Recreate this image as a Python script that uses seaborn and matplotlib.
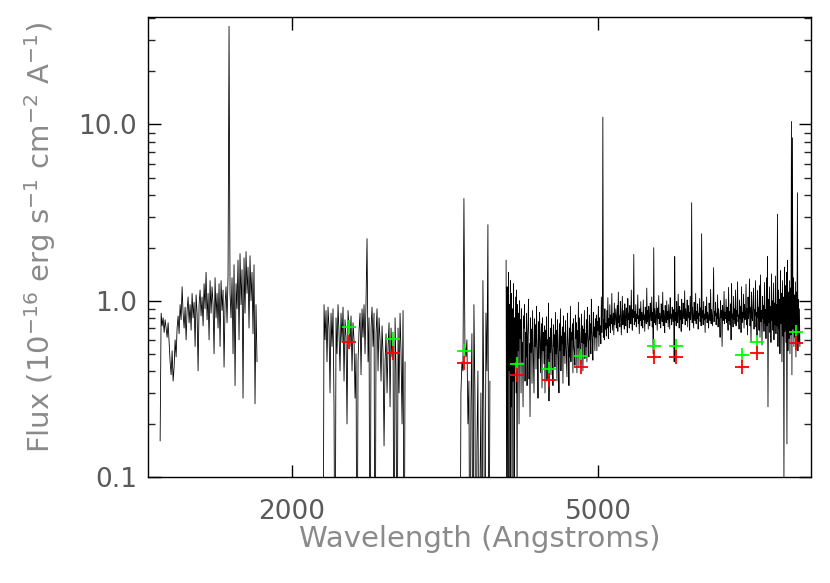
import numpy as np
import pandas as pd
import seaborn as sns
import matplotlib
matplotlib.use("Agg")
import matplotlib.pyplot as plt
from matplotlib.ticker import FixedLocator, NullLocator, FixedFormatter, LogLocator, NullFormatter

# ---------------- data ----------------
# wavelength ranges (Angstrom) of the spectral segments
seg_ranges = [(1348, 1801), (2194, 2804), (3304, 3614), (3793, 9132)]

flux_uv1 = [
    0.16, 0.85, 0.72, 0.80, 0.66, 0.78, 0.70, 0.62, 0.75, 0.58,
    0.45, 0.38, 0.52, 0.35, 0.42, 0.60, 0.48, 0.70, 0.82, 0.65,
    0.95, 0.78, 1.20, 0.85, 0.70, 0.92, 0.60, 0.88, 1.05, 0.75,
    0.95, 0.68, 1.10, 0.80, 0.98, 0.55, 1.08, 0.85, 0.40, 0.95,
    1.15, 0.82, 1.05, 0.72, 1.25, 0.90, 1.45, 0.78, 1.10, 0.60,
    1.30, 0.85, 1.20, 0.95, 0.50, 1.35, 0.80, 1.10, 0.70, 1.25,
    0.55, 1.30, 0.88, 1.15, 0.42, 0.95, 1.20, 0.75, 1.40, 36.0,
    1.10, 0.80, 1.35, 0.50, 1.60, 0.33, 1.25, 0.90, 1.70, 0.60,
    1.85, 0.95, 1.50, 0.28, 1.75, 0.85, 1.90, 1.10, 1.55, 0.70,
    1.80, 1.00, 1.45, 0.65, 1.60, 0.26, 0.95, 0.45,
]

flux_uv2 = [
    0.01, 0.95, 0.60, 0.88, 0.45, 0.92, 0.70, 0.30, 0.85, 0.55,
    0.90, 0.25, 0.01, 0.80, 0.50, 0.95, 0.65, 0.40, 0.85, 0.58,
    0.92, 0.35, 0.78, 0.62, 0.20, 0.88, 0.70, 0.55, 0.82, 0.40,
    0.75, 0.60, 0.28, 0.50, 0.01, 0.45, 0.68, 0.85, 0.38, 0.90,
    0.62, 0.95, 0.50, 1.00, 2.25, 0.45, 0.80, 0.01, 0.70, 0.92,
    0.55, 0.85, 0.01, 0.65, 0.90, 0.40, 0.80, 0.60, 0.35, 0.72,
    0.50, 0.15, 0.45, 0.65, 0.30, 0.55, 0.75, 0.25, 0.70, 0.48,
    0.62, 0.01, 0.80, 0.40, 0.01, 0.70, 0.30, 0.85, 0.50, 0.20,
    0.88, 0.01, 0.45,
]

flux_opt1 = [
    0.01, 0.30, 0.45, 0.40, 3.80, 0.55, 0.48, 0.60, 0.20, 0.35,
    0.01, 0.25, 0.65, 0.01, 0.95, 0.30, 0.01, 0.15, 0.40, 0.01,
    0.08, 0.30, 0.01, 1.30, 0.20, 0.01, 0.85, 0.40, 2.70, 0.01,
    0.35,
]

flux_opt2 = [
    1.70, 0.08, 1.20, 0.30, 0.02, 1.45, 0.40, 0.95, 0.02, 1.30, 0.25, 1.10, 0.05, 0.90, 0.35, 1.25, 0.02, 0.80, 0.45, 1.05,
    0.30, 1.15, 0.06, 0.95, 0.52, 0.85, 0.20, 1.00, 0.61, 0.78, 0.30, 0.90, 0.45, 0.58, 0.25, 0.82, 0.70, 0.95, 0.35, 0.66,
    0.48, 0.85, 0.33, 0.62, 0.74, 1.02, 0.36, 0.57, 0.22, 0.80, 0.51, 0.69, 0.34, 0.88, 0.62, 0.45, 0.30, 0.79, 0.55, 0.73,
    0.41, 0.93, 0.60, 0.50, 0.28, 0.76, 0.47, 0.86, 0.64, 0.39, 0.58, 0.74, 0.32, 0.80, 0.52, 0.66, 0.44, 0.72, 0.30, 0.68,
    0.56, 0.81, 0.35, 0.60, 0.47, 0.97, 0.27, 0.62, 0.51, 0.70, 0.38, 0.79, 0.59, 0.48, 0.33, 0.73, 0.55, 0.64, 0.42, 0.86,
    0.50, 0.68, 0.35, 0.78, 0.61, 0.45, 0.30, 0.74, 0.52, 0.90, 0.40, 0.63, 0.57, 0.71, 0.34, 0.82, 0.49, 0.66, 0.44, 0.77,
    0.58, 0.47, 0.37, 0.85, 0.62, 0.53, 0.33, 0.70, 0.48, 0.93, 0.45, 0.66, 0.60, 0.74, 0.39, 0.79, 0.56, 0.51, 0.43, 0.83,
    0.61, 0.75, 0.39, 0.68, 0.54, 0.98, 0.42, 0.80, 0.63, 0.50, 0.44, 0.84, 0.58, 0.72, 0.40, 0.69, 0.57, 0.88, 0.47, 0.65,
    0.55, 0.78, 0.45, 0.92, 0.64, 0.57, 0.48, 0.83, 0.60, 0.74, 0.50, 1.02, 0.67, 0.58, 0.46, 0.86, 0.63, 0.71, 0.52, 0.79,
    0.62, 0.83, 0.52, 0.76, 0.68, 0.93, 0.55, 0.80, 0.64, 0.72, 0.57, 1.05, 0.66, 0.84, 11.0, 0.62, 0.78, 0.60, 0.90, 0.69,
    0.74, 0.63, 0.88, 0.70, 1.04, 0.61, 0.79, 0.72, 0.95, 0.66, 0.83, 0.74, 1.10, 0.68, 0.77, 0.85, 0.64, 0.97, 0.73, 0.81,
    0.90, 0.70, 0.78, 0.94, 0.67, 1.12, 0.75, 0.82, 0.71, 0.99, 0.86, 0.64, 0.79, 1.06, 0.73, 0.88, 0.76, 0.69, 0.96, 0.80,
    0.72, 0.91, 0.83, 0.66, 1.03, 0.78, 0.85, 0.70, 0.94, 0.81, 0.74, 1.15, 0.77, 0.68, 0.89, 0.80, 1.83, 0.73, 0.87, 0.76,
    0.95, 0.71, 0.84, 0.79, 1.08, 0.74, 0.82, 0.65, 0.90, 0.77, 0.99, 0.72, 0.86, 0.80, 0.70, 1.01, 0.78, 0.83, 0.67, 0.92,
    0.81, 0.74, 1.18, 0.76, 0.88, 0.69, 0.93, 0.80, 0.72, 0.97, 0.84, 0.77, 1.05, 0.71, 0.86, 0.50, 2.00, 0.75, 0.90, 0.79,
    0.73, 0.98, 0.82, 0.68, 0.91, 0.79, 1.07, 0.74, 0.85, 0.80, 0.70, 0.96, 0.83, 0.76, 1.12, 0.72, 0.88, 0.81, 0.66, 0.94,
    0.80, 0.75, 1.00, 0.78, 0.87, 0.71, 0.95, 0.82, 0.69, 1.04, 0.79, 0.84, 0.73, 0.92, 0.81, 0.76, 0.89, 0.45, 1.78, 0.77,
    0.86, 0.72, 0.99, 0.80, 0.75, 1.09, 0.83, 0.70, 0.93, 0.78, 0.88, 0.67, 1.02, 0.81, 0.74, 0.97, 0.85, 0.79, 1.14, 0.73,
    0.90, 0.77, 0.82, 1.01, 0.71, 0.94, 0.80, 0.86, 0.68, 1.06, 0.78, 0.84, 3.60, 0.75, 0.92, 0.81, 0.70, 0.98, 0.83, 0.77,
    1.10, 0.74, 0.87, 0.79, 0.96, 0.69, 0.85, 0.82, 1.03, 0.76, 0.91, 0.72, 2.40, 0.80, 0.88, 0.73, 0.99, 0.78, 0.84, 0.66,
    0.93, 0.79, 1.05, 0.75, 0.86, 0.81, 0.70, 0.97, 0.83, 0.77, 1.16, 0.74, 0.89, 0.80, 0.72, 0.95, 1.54, 0.76, 0.87, 0.82,
    0.98, 0.73, 0.85, 0.79, 1.08, 0.71, 0.90, 0.84, 0.76, 0.62, 1.00, 0.80, 0.88, 0.55, 0.94, 0.77, 0.83, 1.13, 0.74, 0.86,
    0.79, 1.02, 0.75, 0.92, 0.81, 0.68, 1.19, 0.77, 0.87, 0.73, 0.96, 0.60, 1.25, 0.80, 0.84, 0.71, 1.06, 0.78, 0.90, 0.74,
    1.15, 0.72, 0.88, 0.81, 1.28, 0.76, 0.83, 0.69, 1.01, 0.79, 0.93, 0.66, 1.20, 0.75, 0.86, 0.80, 1.09, 0.70, 0.95, 0.78,
    0.84, 1.24, 0.73, 0.90, 0.64, 1.05, 0.79, 0.87, 1.33, 0.72, 0.92, 0.58, 1.12, 0.81, 0.77, 0.95, 1.18, 0.69, 0.89, 0.82,
    1.30, 0.71, 0.86, 0.63, 1.14, 0.80, 0.92, 0.68, 1.22, 0.62, 1.40, 0.76, 0.88, 0.56, 1.06, 0.79, 0.94, 0.67, 1.27, 0.74,
    0.89, 0.61, 1.35, 0.72, 1.78, 0.25, 1.02, 0.75, 1.20, 0.66, 0.93, 0.58, 1.42, 0.77, 1.00, 0.68, 1.26, 0.60, 0.97, 0.73,
    1.38, 0.65, 0.95, 0.72, 3.10, 0.55, 1.15, 0.70, 1.02, 0.50, 1.48, 0.74, 1.10, 0.45, 1.30, 0.63, 1.05, 0.10, 1.55, 0.67,
    1.22, 0.58, 1.45, 0.154, 1.70, 0.52, 1.12, 0.61, 1.30, 0.50, 1.18, 0.64, 10.4, 0.38, 8.4, 0.69, 1.35, 0.55, 1.08, 0.62,
    1.28, 0.48, 1.12, 0.60, 4.10, 0.52, 1.02, 0.58, 0.90, 0.55,
]

# photometric points
phot_wave = [2372, 2705, 3344, 3920, 4313, 4746, 5902, 6303, 7677, 8031, 9023]
phot_green = [0.71, 0.61, 0.52, 0.44, 0.41, 0.485, 0.555, 0.555, 0.494, 0.587, 0.661]
phot_red = [0.585, 0.506, 0.443, 0.380, 0.353, 0.423, 0.481, 0.481, 0.423, 0.502, 0.577]

x_ticks = [2000, 5000]
x_tick_labels = ["2000", "5000"]
y_ticks = [0.1, 1.0, 10.0]
y_tick_labels = ["0.1", "1.0", "10.0"]

# ---------------- build table ----------------
frames = []
for i, (rng, fl) in enumerate(zip(seg_ranges, [flux_uv1, flux_uv2, flux_opt1, flux_opt2])):
    wl = np.geomspace(rng[0], rng[1], len(fl))
    frames.append(pd.DataFrame({"wave": wl, "flux": fl, "seg": i}))
spec = pd.concat(frames, ignore_index=True)

# ---------------- plot ----------------
sns.set_theme(style="ticks")
plt.rcParams["font.family"] = ["DejaVu Sans"]

fig = plt.figure(figsize=(8.3, 5.83), dpi=100)
ax = fig.add_axes([148 / 830, 1 - 477 / 583, (811 - 148) / 830, (477 - 17) / 583])

sns.lineplot(data=spec, x="wave", y="flux", units="seg", estimator=None, sort=False,
             color="black", linewidth=0.6, ax=ax, legend=False)

sns.scatterplot(x=phot_wave, y=phot_green, marker="+", s=110, color="#00ff00",
                linewidth=1.3, ax=ax, legend=False, zorder=5)
sns.scatterplot(x=phot_wave, y=phot_red, marker="+", s=110, color="#ff0000",
                linewidth=1.3, ax=ax, legend=False, zorder=5)

ax.set_xscale("log")
ax.set_yscale("log")
ax.set_xlim(1300, 9440)
ax.set_ylim(0.1, 40.7)

ax.xaxis.set_major_locator(FixedLocator(x_ticks))
ax.xaxis.set_major_formatter(FixedFormatter(x_tick_labels))
ax.xaxis.set_minor_locator(NullLocator())
ax.yaxis.set_major_locator(FixedLocator(y_ticks))
ax.yaxis.set_major_formatter(FixedFormatter(y_tick_labels))
ax.yaxis.set_minor_locator(LogLocator(base=10, subs=np.arange(2, 10)))
ax.yaxis.set_minor_formatter(NullFormatter())

tick_col = "#5a5a5a"
lab_col = "#8a8a8a"
ax.tick_params(axis="both", which="major", direction="in", length=9, width=1.0,
               top=True, right=True, colors="black", labelcolor=tick_col, labelsize=19)
ax.tick_params(axis="x", which="major", pad=16)
ax.tick_params(axis="y", which="major", pad=8)
ax.tick_params(axis="y", which="minor", direction="in", length=5, width=1.0, right=True, left=True)

for sp in ax.spines.values():
    sp.set_color("black")
    sp.set_linewidth(1.0)

ax.set_xlabel("Wavelength (Angstroms)", fontsize=21, color=lab_col, labelpad=0)
ax.set_ylabel(r"Flux (10$^{-16}$ erg s$^{-1}$ cm$^{-2}$ A$^{-1}$)", fontsize=21,
              color=lab_col)
ax.yaxis.set_label_coords(-0.135, 0.522)

fig.savefig("out.png", dpi=100)
